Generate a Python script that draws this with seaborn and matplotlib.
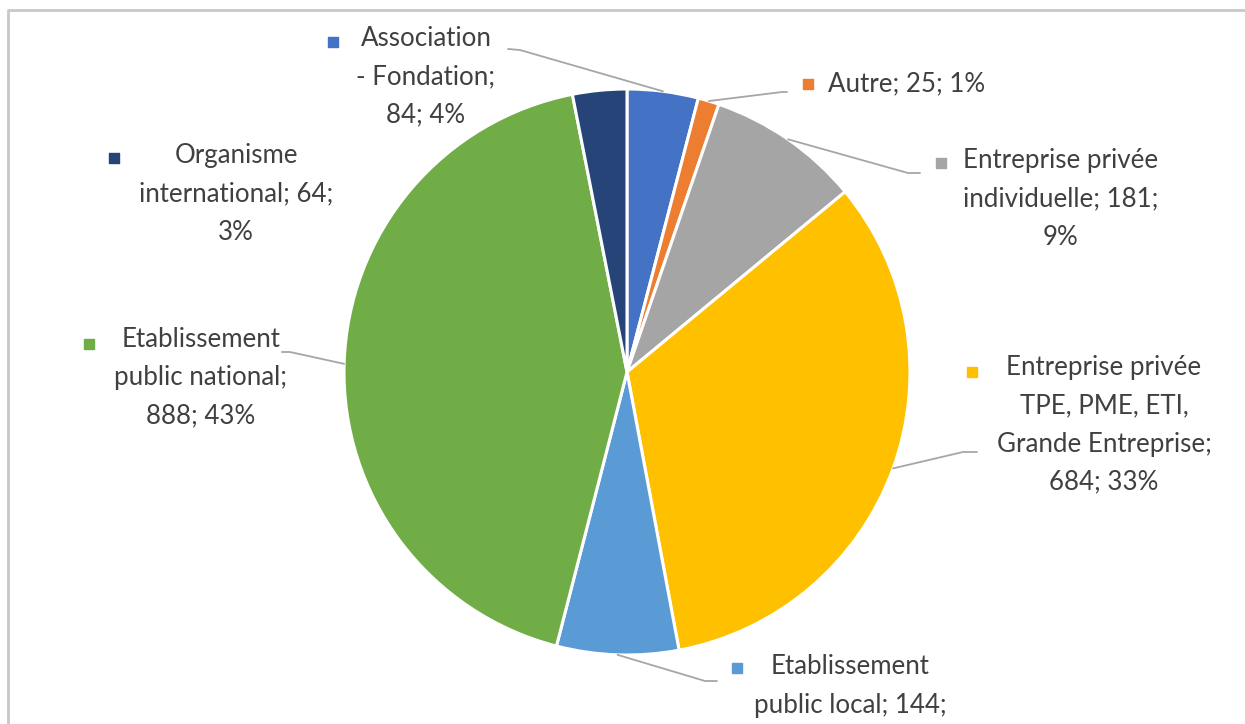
import numpy as np
import seaborn as sns
import matplotlib.pyplot as plt

sns.set_theme(style="white")
plt.rcParams["font.family"] = ["Lato", "DejaVu Sans"]

# Données du camembert (ordre Excel, sens horaire depuis midi)
categories = [
    "Association\n- Fondation",
    "Autre",
    "Entreprise privée\nindividuelle",
    "Entreprise privée\nTPE, PME, ETI,\nGrande Entreprise",
    "Etablissement\npublic local",
    "Etablissement\npublic national",
    "Organisme\ninternational",
]
values = [84, 25, 181, 684, 144, 888, 64]
percents = ["4%", "1%", "9%", "33%", "7%", "43%", "3%"]
label_texts = [
    "Association\n- Fondation;\n84; 4%",
    "Autre; 25; 1%",
    "Entreprise privée\nindividuelle; 181;\n9%",
    "Entreprise privée\nTPE, PME, ETI,\nGrande Entreprise;\n684; 33%",
    "Etablissement\npublic local; 144;\n7%",
    "Etablissement\npublic national;\n888; 43%",
    "Organisme\ninternational; 64;\n3%",
]
colors = ["#4472C4", "#ED7D31", "#A5A5A5", "#FFC000", "#5B9BD5", "#70AD47", "#264478"]

W, H = 1245, 724
fig = plt.figure(figsize=(W / 100, H / 100), dpi=100)
ax = fig.add_axes([0, 0, 1, 1])

cx, cy, r = 627, H - 372, 283
wedges, _ = ax.pie(values, colors=colors, startangle=90, counterclock=False,
                   center=(cx, cy), radius=r, frame=True,
                   wedgeprops=dict(edgecolor="white", linewidth=2.2))
ax.set_xlim(0, W)
ax.set_ylim(0, H)
ax.set_aspect("equal")
ax.axis("off")

# position des étiquettes (centre du texte, en pixels depuis le haut)
label_pos = [(426, 77), (907, 84), (1061, 199), (1104, 425), (850, 705), (201, 378), (236, 194)]
marker_pos = [(333, 42), (808, 84), (941, 163), (972, 372), (737, 668), (89, 344), (114, 158)]
# fin de la ligne de rappel (coude puis point final)
leader_end = [
    [(520, 50), (508, 49)],
    [(782, 92), (787, 92)],
    [(908, 173), (920, 173)],
    [(963, 452), (977, 452)],
    [(705, 681), (717, 681)],
    [(290, 352), (282, 352)],
    None,
]

for w, txt, col, (lx, ly), (mx, my), le in zip(wedges, label_texts, colors,
                                                label_pos, marker_pos, leader_end):
    ax.text(lx, H - ly, txt, ha="center", va="center", fontsize=18.6,
            color="#404040", linespacing=1.66, zorder=5)
    ax.scatter([mx], [H - my], marker="s", s=60, color=col, zorder=5)
    if le is not None:
        ang = np.deg2rad((w.theta1 + w.theta2) / 2)
        px, py = cx + r * np.cos(ang), cy + r * np.sin(ang)
        xs = [px] + [p[0] for p in le]
        ys = [py] + [H - p[1] for p in le]
        ax.plot(xs, ys, color="#A6A6A6", linewidth=1.3, zorder=1)

# cadre gris du graphique (coupé à droite et en bas)
ax.plot([8, 8, W + 5], [-5, H - 10, H - 10], color="#C8C8C8", linewidth=2, zorder=0)

fig.savefig("out.png", dpi=100)
